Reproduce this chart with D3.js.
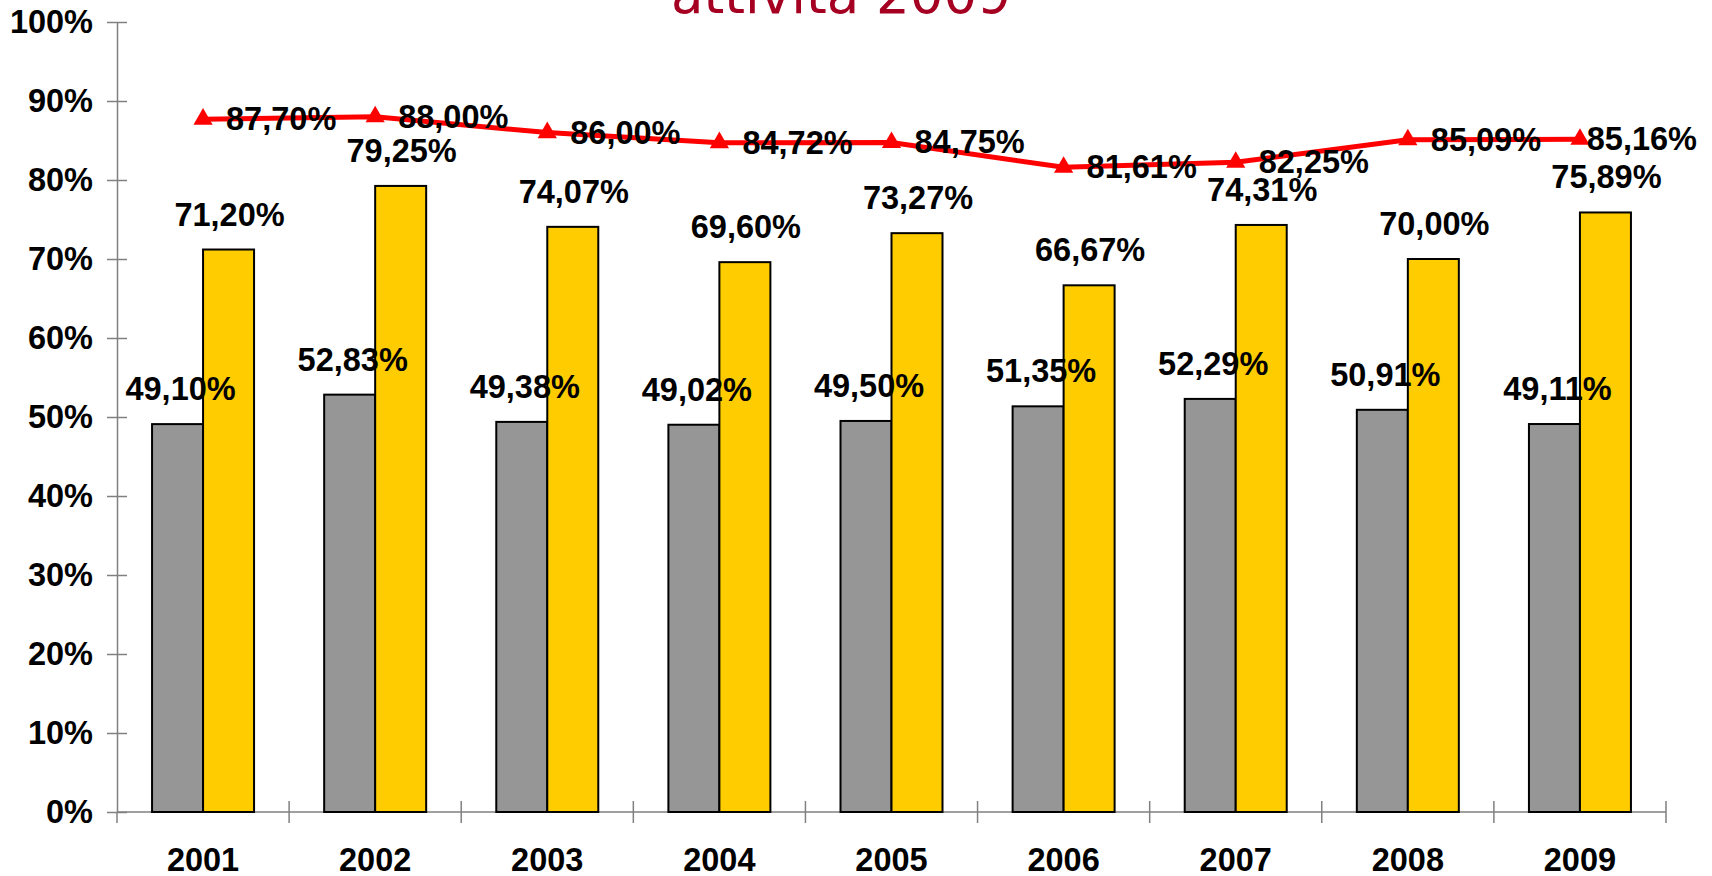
<html>
<head>
    <title>attività 2009</title>
    <style>
        body { margin: 0; background: #fff; }
        text { font-family: "Liberation Sans", Arial, sans-serif; }
    </style>
</head>
<body>
    <div id="viz"></div>
    <script src="https://d3js.org/d3.v7.min.js"></script>
    <script>
        var years = ['2001', '2002', '2003', '2004', '2005', '2006', '2007', '2008', '2009'];
        var grey = [49.10, 52.83, 49.38, 49.02, 49.50, 51.35, 52.29, 50.91, 49.11];
        var yellow = [71.20, 79.25, 74.07, 69.60, 73.27, 66.67, 74.31, 70.00, 75.89];
        var red = [87.70, 88.00, 86.00, 84.72, 84.75, 81.61, 82.25, 85.09, 85.16];
        var yTicks = [0, 10, 20, 30, 40, 50, 60, 70, 80, 90, 100];
        var title = 'attività 2009';

        var width = 1712, height = 876;
        var fs = '32.5px';

        var svg = d3.select('#viz').append('svg')
            .attr('width', width)
            .attr('height', height);

        var x = d3.scaleBand().domain(years).range([117, 1666]);
        var inner = d3.scaleBand().domain(['g', 'y']).range([0, 102]);
        var y = d3.scaleLinear().domain([0, 100]).range([812, 22]);

        function fmt(v) {
            return v.toFixed(2).replace('.', ',') + '%';
        }

        // title (cut at top, as in the original slide)
        svg.append('text')
            .attr('x', 841)
            .attr('y', 13)
            .attr('text-anchor', 'middle')
            .attr('fill', '#a50021')
            .style('font-family', '"DejaVu Sans", sans-serif')
            .style('font-size', '53px')
            .text(title);

        // y axis
        var yAxis = d3.axisLeft(y).tickValues(yTicks)
            .tickFormat(function (d) { return d + '%'; })
            .tickSize(10).tickSizeOuter(0).tickPadding(14);
        var gy = svg.append('g').attr('transform', 'translate(117,0)').call(yAxis);
        gy.select('.domain').attr('stroke', '#808080').attr('stroke-width', 1.5);
        gy.selectAll('.tick line').attr('stroke', '#808080').attr('stroke-width', 1.5).attr('x2', 10).attr('x1', -10);
        gy.selectAll('.tick text')
            .attr('x', -24)
            .attr('fill', '#000')
            .style('font-size', fs)
            .style('font-weight', 'bold');
        svg.append('line')
            .attr('x1', 117).attr('x2', 117)
            .attr('y1', y(0)).attr('y2', y(0) + 11)
            .attr('stroke', '#808080').attr('stroke-width', 1.5);

        // x axis
        svg.append('line')
            .attr('x1', 117).attr('x2', 1666)
            .attr('y1', y(0)).attr('y2', y(0))
            .attr('stroke', '#808080').attr('stroke-width', 1.5);
        svg.selectAll('.xtick')
            .data(years)
            .enter().append('line')
            .attr('class', 'xtick')
            .attr('x1', function (d) { return x(d) + x.bandwidth(); })
            .attr('x2', function (d) { return x(d) + x.bandwidth(); })
            .attr('y1', y(0) - 11).attr('y2', y(0) + 11)
            .attr('stroke', '#808080').attr('stroke-width', 1.5);
        svg.selectAll('.xlab')
            .data(years)
            .enter().append('text')
            .attr('class', 'xlab')
            .attr('x', function (d) { return x(d) + x.bandwidth() / 2; })
            .attr('y', 871)
            .attr('text-anchor', 'middle')
            .style('font-size', fs)
            .style('font-weight', 'bold')
            .text(function (d) { return d; });

        var off = (x.bandwidth() - 102) / 2;

        // bars
        var groups = svg.selectAll('.grp')
            .data(years)
            .enter().append('g')
            .attr('class', 'grp')
            .attr('transform', function (d) { return 'translate(' + (x(d) + off) + ',0)'; });

        groups.append('rect')
            .attr('x', inner('g'))
            .attr('width', inner.bandwidth())
            .attr('y', function (d, i) { return y(grey[i]); })
            .attr('height', function (d, i) { return y(0) - y(grey[i]); })
            .attr('fill', '#969696')
            .attr('stroke', '#000').attr('stroke-width', 2);

        groups.append('rect')
            .attr('x', inner('y'))
            .attr('width', inner.bandwidth())
            .attr('y', function (d, i) { return y(yellow[i]); })
            .attr('height', function (d, i) { return y(0) - y(yellow[i]); })
            .attr('fill', '#ffcc00')
            .attr('stroke', '#000').attr('stroke-width', 2);

        // red line
        var line = d3.line()
            .x(function (d, i) { return x(years[i]) + x.bandwidth() / 2; })
            .y(function (d) { return y(d); });

        svg.append('path')
            .datum(red)
            .attr('d', line)
            .attr('fill', 'none')
            .attr('stroke', '#ff0000')
            .attr('stroke-width', 5);

        svg.selectAll('.mark')
            .data(red)
            .enter().append('path')
            .attr('class', 'mark')
            .attr('d', d3.symbol().type(d3.symbolTriangle).size(160))
            .attr('transform', function (d, i) {
                return 'translate(' + (x(years[i]) + x.bandwidth() / 2) + ',' + y(d) + ')';
            })
            .attr('fill', '#ff0000');

        // labels
        groups.append('text')
            .attr('x', inner('g') + inner.bandwidth() / 2 + 3)
            .attr('y', function (d, i) { return y(grey[i]) - 24; })
            .attr('text-anchor', 'middle')
            .style('font-size', fs)
            .style('font-weight', 'bold')
            .text(function (d, i) { return fmt(grey[i]); });

        groups.append('text')
            .attr('x', inner('y') + inner.bandwidth() / 2 + 1)
            .attr('y', function (d, i) { return y(yellow[i]) - 24; })
            .attr('text-anchor', 'middle')
            .style('font-size', fs)
            .style('font-weight', 'bold')
            .text(function (d, i) { return fmt(yellow[i]); });

        svg.selectAll('.rlab')
            .data(red)
            .enter().append('text')
            .attr('class', 'rlab')
            .attr('y', function (d) { return y(d) + 11; })
            .style('font-size', fs)
            .style('font-weight', 'bold')
            .text(function (d) { return fmt(d); })
            .attr('x', function (d, i) {
                var px = x(years[i]) + x.bandwidth() / 2 + 23;
                var w = this.getComputedTextLength();
                return Math.min(px, 1697 - w);
            });
    </script>
</body>
</html>
